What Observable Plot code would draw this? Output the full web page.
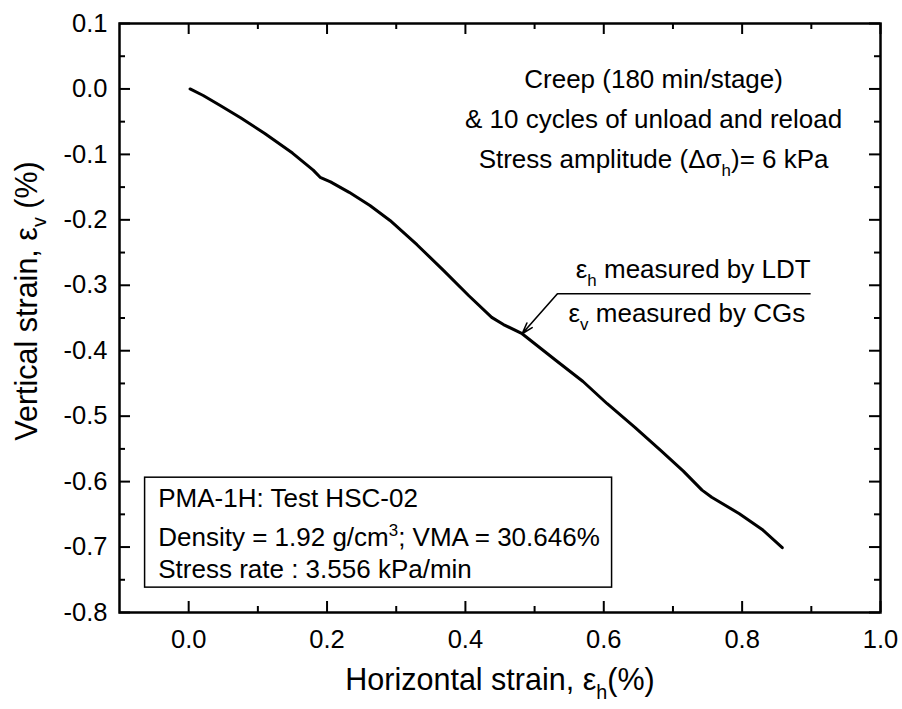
<!DOCTYPE html>
<html>
<head>
<meta charset="utf-8">
<script src="https://cdn.jsdelivr.net/npm/d3@7"></script>
<script src="https://cdn.jsdelivr.net/npm/@observablehq/plot@0.6"></script>
<style>
  html, body { margin: 0; padding: 0; background: #fff; }
  #chart svg { display: block; }
</style>
</head>
<body>
<div id="chart"></div>
<script>
// Horizontal strain εh (%) and vertical strain εv (%)
const strainH = [0.002, 0.021, 0.045, 0.075, 0.110, 0.150, 0.180, 0.190, 0.205, 0.232, 0.262, 0.291, 0.330, 0.369, 0.405, 0.438, 0.455, 0.482, 0.531, 0.570, 0.605, 0.645, 0.683, 0.715, 0.742, 0.756, 0.796, 0.830, 0.858];
const strainV = [0.000, -0.010, -0.025, -0.044, -0.068, -0.098, -0.124, -0.135, -0.142, -0.158, -0.178, -0.201, -0.238, -0.278, -0.316, -0.349, -0.360, -0.374, -0.415, -0.447, -0.481, -0.517, -0.553, -0.584, -0.613, -0.624, -0.649, -0.674, -0.701];

const xTicks = [0.0, 0.2, 0.4, 0.6, 0.8, 1.0];
const xMinor = [0.1, 0.3, 0.5, 0.7, 0.9];
const yTicks = [0.1, 0.0, -0.1, -0.2, -0.3, -0.4, -0.5, -0.6, -0.7, -0.8];
const yMinor = [0.05, -0.05, -0.15, -0.25, -0.35, -0.45, -0.55, -0.65, -0.75];

const xTitle = "Horizontal strain, ε_{h}(%)";
const yTitle = "Vertical strain, ε_{v} (%)";
const conditionLines = ["Creep (180 min/stage)", "& 10 cycles of unload and reload", "Stress amplitude (Δσ_{h})= 6 kPa"];
const labelAbove = "ε_{h} measured by LDT";
const labelBelow = "ε_{v} measured by CGs";
const specimenLines = ["PMA-1H: Test HSC-02", "Density = 1.92 g/cm^{3}; VMA = 30.646%", "Stress rate : 3.556 kPa/min"];

const W = 902, H = 709;
const mL = 119, mR = 22, mT = 23, mB = 97;
const innerW = W - mL - mR, innerH = H - mT - mB;
const fmt = d => d.toFixed(1);
const curve = strainH.map((x, i) => ({x, y: strainV[i]}));

const chart = Plot.plot({
  width: W, height: H,
  marginLeft: mL, marginRight: mR, marginTop: mT, marginBottom: mB,
  x: {domain: [-0.1, 1.0]},
  y: {domain: [-0.8, 0.1]},
  style: {fontFamily: "'Liberation Sans', Arial, sans-serif", fontSize: "25px", color: "#000", background: "#fff"},
  marks: [
    // ticks pointing inward on all four sides
    Plot.ruleX(xTicks, {x: d => d, insetTop: innerH - 11, stroke: "#000", strokeWidth: 2}),
    Plot.ruleX(xMinor, {x: d => d, insetTop: innerH - 6, stroke: "#000", strokeWidth: 2}),
    Plot.ruleX(xTicks, {x: d => d, insetBottom: innerH - 11, stroke: "#000", strokeWidth: 2}),
    Plot.ruleX(xMinor, {x: d => d, insetBottom: innerH - 6, stroke: "#000", strokeWidth: 2}),
    Plot.ruleY(yTicks, {y: d => d, insetRight: innerW - 11, stroke: "#000", strokeWidth: 2}),
    Plot.ruleY(yMinor, {y: d => d, insetRight: innerW - 6, stroke: "#000", strokeWidth: 2}),
    Plot.ruleY(yTicks, {y: d => d, insetLeft: innerW - 11, stroke: "#000", strokeWidth: 2}),
    Plot.ruleY(yMinor, {y: d => d, insetLeft: innerW - 6, stroke: "#000", strokeWidth: 2}),
    Plot.axisX(xTicks, {anchor: "bottom", tickSize: 0, tickPadding: 17, tickFormat: fmt, label: null, fontSize: 25.5}),
    Plot.axisY(yTicks, {anchor: "left", tickSize: 0, tickPadding: 12, tickFormat: fmt, label: null, fontSize: 25.5}),
    Plot.frame({stroke: "#000", strokeWidth: 2.5}),
    // axis titles
    Plot.text([xTitle], {frameAnchor: "bottom", textAnchor: "middle", dy: 77, fontSize: 30.5, text: d => d}),
    Plot.text([yTitle], {frameAnchor: "left", textAnchor: "middle", rotate: -90, dx: -92, dy: -17, fontSize: 30.5, text: d => d}),
    // data curve
    Plot.line(curve, {x: "x", y: "y", stroke: "#000", strokeWidth: 3, strokeLinejoin: "round", strokeLinecap: "round"}),
    // test-condition annotation
    Plot.text([conditionLines.join("\n")], {x: 0.672, y: -0.040, text: d => d, textAnchor: "middle", lineHeight: 1.55, fontSize: 26}),
    // leader with arrow
    Plot.link([0], {x1: 0.533, y1: -0.313, x2: 0.899, y2: -0.313, stroke: "#000", strokeWidth: 1.5}),
    Plot.arrow([0], {x1: 0.533, y1: -0.313, x2: 0.482, y2: -0.374, stroke: "#000", strokeWidth: 1.6, headLength: 11, headAngle: 35}),
    Plot.text([labelAbove], {x: 0.899, y: -0.276, text: d => d, textAnchor: "end", fontSize: 26}),
    Plot.text([labelBelow], {x: 0.549, y: -0.3435, text: d => d, textAnchor: "start", fontSize: 26}),
    // specimen box
    Plot.rect([0], {x1: -0.063, x2: 0.612, y1: -0.594, y2: -0.762, fill: "none", stroke: "#000", strokeWidth: 1.5}),
    Plot.text([specimenLines[0]], {x: -0.044, y: -0.626, text: d => d, textAnchor: "start", fontSize: 26}),
    Plot.text([specimenLines[1]], {x: -0.044, y: -0.6855, text: d => d, textAnchor: "start", fontSize: 26}),
    Plot.text([specimenLines[2]], {x: -0.044, y: -0.734, text: d => d, textAnchor: "start", fontSize: 26})
  ]
});

document.getElementById("chart").appendChild(chart);

// turn _{x} and ^{x} markers into real subscript / superscript tspans
(function richText(root) {
  const walker = document.createTreeWalker(root, NodeFilter.SHOW_TEXT);
  const nodes = [];
  while (walker.nextNode()) nodes.push(walker.currentNode);
  const re = /([_^])\{([^}]*)\}/g;
  for (const node of nodes) {
    const s = node.nodeValue;
    if (!/[_^]\{/.test(s)) continue;
    const parent = node.parentNode;
    const fs = parseFloat(getComputedStyle(parent).fontSize) || 25;
    const frag = document.createDocumentFragment();
    let last = 0, m;
    re.lastIndex = 0;
    while ((m = re.exec(s))) {
      if (m.index > last) frag.appendChild(document.createTextNode(s.slice(last, m.index)));
      const t = document.createElementNS("http://www.w3.org/2000/svg", "tspan");
      t.setAttribute("font-size", (fs * 0.65).toFixed(1));
      t.setAttribute("baseline-shift", m[1] === "_" ? (-fs * 0.3).toFixed(1) : (fs * 0.4).toFixed(1));
      t.textContent = m[2];
      frag.appendChild(t);
      last = re.lastIndex;
    }
    if (last < s.length) frag.appendChild(document.createTextNode(s.slice(last)));
    parent.replaceChild(frag, node);
  }
})(chart);
</script>
</body>
</html>
